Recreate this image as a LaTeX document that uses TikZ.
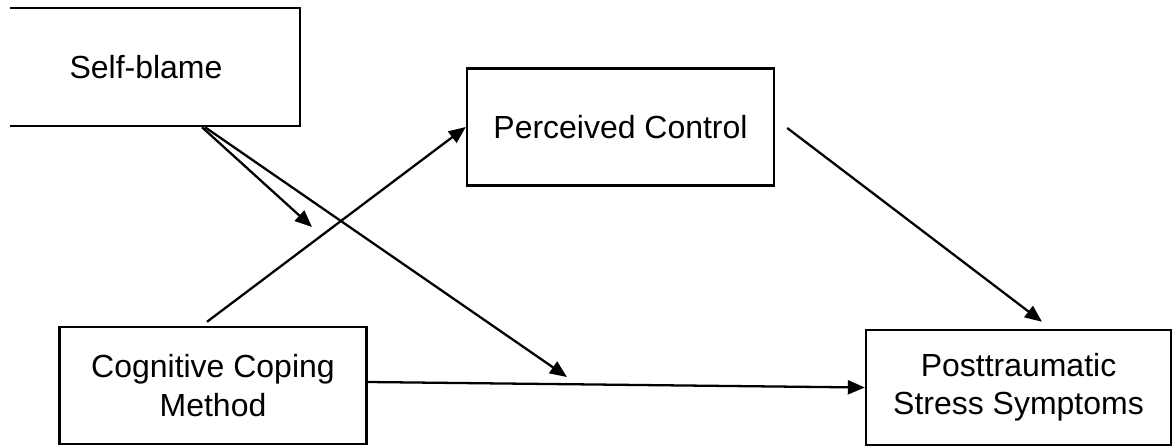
\documentclass[tikz,border=0pt]{standalone}
\usepackage{fontspec}
\setmainfont{Liberation Sans}
\usetikzlibrary{arrows.meta,calc}
\begin{document}
\begin{tikzpicture}[x=0.02cm, y=-0.02cm]
                \tikzset{Box/.style={draw, line width=1.4pt, minimum width=6.14cm, minimum height=2.34cm,
                    align=center, inner sep=0pt, font=\fontsize{18.2}{21.8}\selectfont}}
                \tikzset{Arrow/.style={line width=1.3pt, -{Triangle[length=0.34cm, width=0.28cm]}}}
                \useasboundingbox (0,0) rectangle (1173,446);
                \begin{scope}
                    \clip (10,0) rectangle (1173,446);
                    \node[Box, minimum width=6.16cm, minimum height=2.36cm] (SB) at (146,67) {Self-blame};
                \end{scope}
                \node[Box] (PC) at (620.5,127) {Perceived Control};
                \node[Box] (CCM) at (213,385.5) {Cognitive Coping\\Method};
                \node[Box, minimum width=6.1cm, minimum height=2.3cm] (PTSS) at (1018.5,387.5) {Posttraumatic\\Stress Symptoms};
                \coordinate (M1) at (312,227);
                \coordinate (M2) at (567,377);
                \draw[Arrow] ($(CCM.north)+(-6,-4)$) -- (PC.west);
                \draw[Arrow] ($(PC.east)+(12,1)$) -- ($(PTSS.north)+(23.5,-7)$);
                \draw[Arrow] ($(CCM.east)+(0,-3.5)$) -- (PTSS.west);
                \draw[Arrow] ($(SB.south)+(56,0)$) -- (M1);
                \draw[Arrow] ($(SB.south)+(59,0)$) -- (M2);
            \end{tikzpicture}
\end{document}
